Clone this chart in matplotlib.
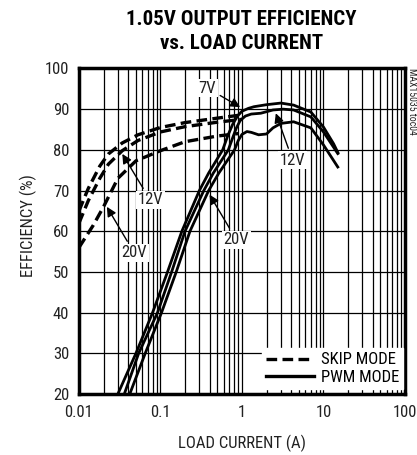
import numpy as np
import matplotlib
matplotlib.use('Agg')
from matplotlib import pyplot as plt
from matplotlib.ticker import LogLocator, FixedLocator, NullFormatter

plt.rcParams['font.family'] = ['Roboto Condensed', 'DejaVu Sans']

# skip mode (dashed)
skip_7v_x = [0.01, 0.013, 0.018, 0.023, 0.034, 0.053, 0.1, 0.2, 0.5, 1.0]
skip_7v_y = [65, 70.5, 76, 79, 81.7, 83.7, 85.5, 86.7, 87.8, 88.6]
skip_12v_x = [0.01, 0.013, 0.018, 0.023, 0.034, 0.053, 0.1, 0.2, 0.5, 1.0]
skip_12v_y = [62, 67.5, 73, 76.5, 79.8, 82.3, 84.4, 85.7, 86.8, 87.5]
skip_20v_x = [0.01, 0.015, 0.02, 0.03, 0.05, 0.1, 0.2, 0.5, 0.9]
skip_20v_y = [56, 61.5, 66, 73, 77.3, 79.8, 82, 83.4, 84]

# pwm mode (solid)
pwm_7v_x = [0.030, 0.050, 0.080, 0.122, 0.183, 0.30, 0.39, 0.58, 0.67, 0.77, 0.88,
            1.0, 1.2, 1.4, 2.0, 3.0, 4.3, 7.0, 10.0, 13.3, 15.3]
pwm_7v_y = [20, 30, 40, 50, 60, 70, 74.3, 80, 83.5, 86.3, 88.3,
            89.5, 90.2, 90.6, 91.1, 91.5, 91.0, 89.3, 85.6, 81.5, 79]
pwm_12v_x = [0.036, 0.054, 0.092, 0.137, 0.20, 0.34, 0.445, 0.68, 0.77, 0.85, 0.95,
             1.1, 1.3, 1.7, 2.4, 3.2, 4.3, 7.0, 10.0, 15.3]
pwm_12v_y = [20, 30, 40, 50, 60, 70, 74.3, 80, 83, 85.3, 87.2,
             88.3, 88.8, 89.0, 89.8, 90.0, 89.8, 88.1, 84.4, 78.8]
pwm_20v_x = [0.042, 0.065, 0.103, 0.156, 0.23, 0.39, 0.52, 0.81, 0.9, 1.0, 1.15,
             1.3, 1.6, 2.0, 2.4, 3.0, 4.3, 7.0, 10.0, 15.3]
pwm_20v_y = [20, 30, 40, 50, 60, 70, 74.3, 80, 82.3, 83.8, 84.5,
             84.3, 83.7, 83.9, 85.4, 86.5, 86.9, 85.4, 81.2, 75.5]

x_ticks = [0.01, 0.1, 1, 10, 100]
x_tick_labels = ['0.01', '0.1', '1', '10', '100']
y_ticks = [20, 30, 40, 50, 60, 70, 80, 90, 100]

fig = plt.figure(figsize=(4.17, 4.55), dpi=100)
ax = fig.add_axes([0.1894, 0.1341, 0.7818, 0.7154])

dash = (0, (3.2, 1.6))
for xs, ys in [(skip_7v_x, skip_7v_y), (skip_12v_x, skip_12v_y), (skip_20v_x, skip_20v_y)]:
    ax.plot(xs, ys, color='black', lw=2.4, linestyle=dash, zorder=3)
for xs, ys in [(pwm_7v_x, pwm_7v_y), (pwm_12v_x, pwm_12v_y), (pwm_20v_x, pwm_20v_y)]:
    ax.plot(xs, ys, color='black', lw=2.0, solid_capstyle='butt', solid_joinstyle='round', zorder=3)

ax.set_xscale('log')
ax.set_xlim(0.01, 100)
ax.set_ylim(20, 100)
ax.xaxis.set_major_locator(FixedLocator(x_ticks))
ax.set_xticklabels(x_tick_labels)
ax.xaxis.set_minor_locator(LogLocator(base=10, subs=np.arange(2, 10)))
ax.xaxis.set_minor_formatter(NullFormatter())
ax.set_yticks(y_ticks)
ax.grid(True, which='both', axis='x', color='black', lw=0.9)
ax.grid(True, which='major', axis='y', color='black', lw=0.9)
ax.tick_params(axis='both', which='both', length=0, labelsize=12, colors='#222222')
ax.tick_params(axis='x', pad=8)
ax.tick_params(axis='y', pad=7)
for s in ax.spines.values():
    s.set_linewidth(2.5)

# legend
ax.plot([], [], color='black', lw=2.4, linestyle=dash, label='SKIP MODE')
ax.plot([], [], color='black', lw=2.4, label='PWM MODE')
leg = ax.legend(loc='lower right', bbox_to_anchor=(0.995, 0.015), fontsize=12,
                handlelength=2.9, handletextpad=0.4, labelspacing=0.15,
                borderpad=0.25, borderaxespad=0, frameon=True, fancybox=False)
leg.get_frame().set_facecolor('white')
leg.get_frame().set_edgecolor('white')
leg.get_frame().set_alpha(1)
leg.set_zorder(5)

# labels with arrows
box = dict(boxstyle='square,pad=0.1', fc='white', ec='none')
arrow = dict(arrowstyle='-|>', color='black', lw=1.0, mutation_scale=14, shrinkA=2, shrinkB=0)
notes = [('7V', (0.95, 90.5), (0.375, 95.2)),
         ('12V', (2.6, 89.0), (4.17, 77.5)),
         ('12V', (0.034, 79.0), (0.0747, 67.7)),
         ('20V', (0.022, 66.0), (0.0475, 54.7)),
         ('20V', (0.40, 69.0), (0.853, 57.9))]
for txt, tip, pos in notes:
    ax.annotate(txt, xy=tip, xytext=pos, ha='center', va='center', fontsize=12,
                color='#222222', bbox=box, arrowprops=arrow, zorder=6)

# title, two lines placed on their baselines
fig.text(241.5 / 417, 1 - 25 / 455, '1.05V OUTPUT EFFICIENCY', ha='center', va='baseline',
         fontsize=15, fontweight='bold')
fig.text(241.5 / 417, 1 - 49.3 / 455, 'vs. LOAD CURRENT', ha='center', va='baseline',
         fontsize=15, fontweight='bold')
fig.text(0.067, 0.505, 'EFFICIENCY (%)', rotation=90, ha='center', va='center',
         fontsize=12, color='#222222')
fig.text(0.58, 0.026, 'LOAD CURRENT (A)', ha='center', va='center', fontsize=12, color='#222222')
fig.text(0.988, 0.85, 'MAX15035 toc04', rotation=270, ha='center', va='top', fontsize=7,
         color='#222222')

fig.savefig('out.png', dpi=100)
